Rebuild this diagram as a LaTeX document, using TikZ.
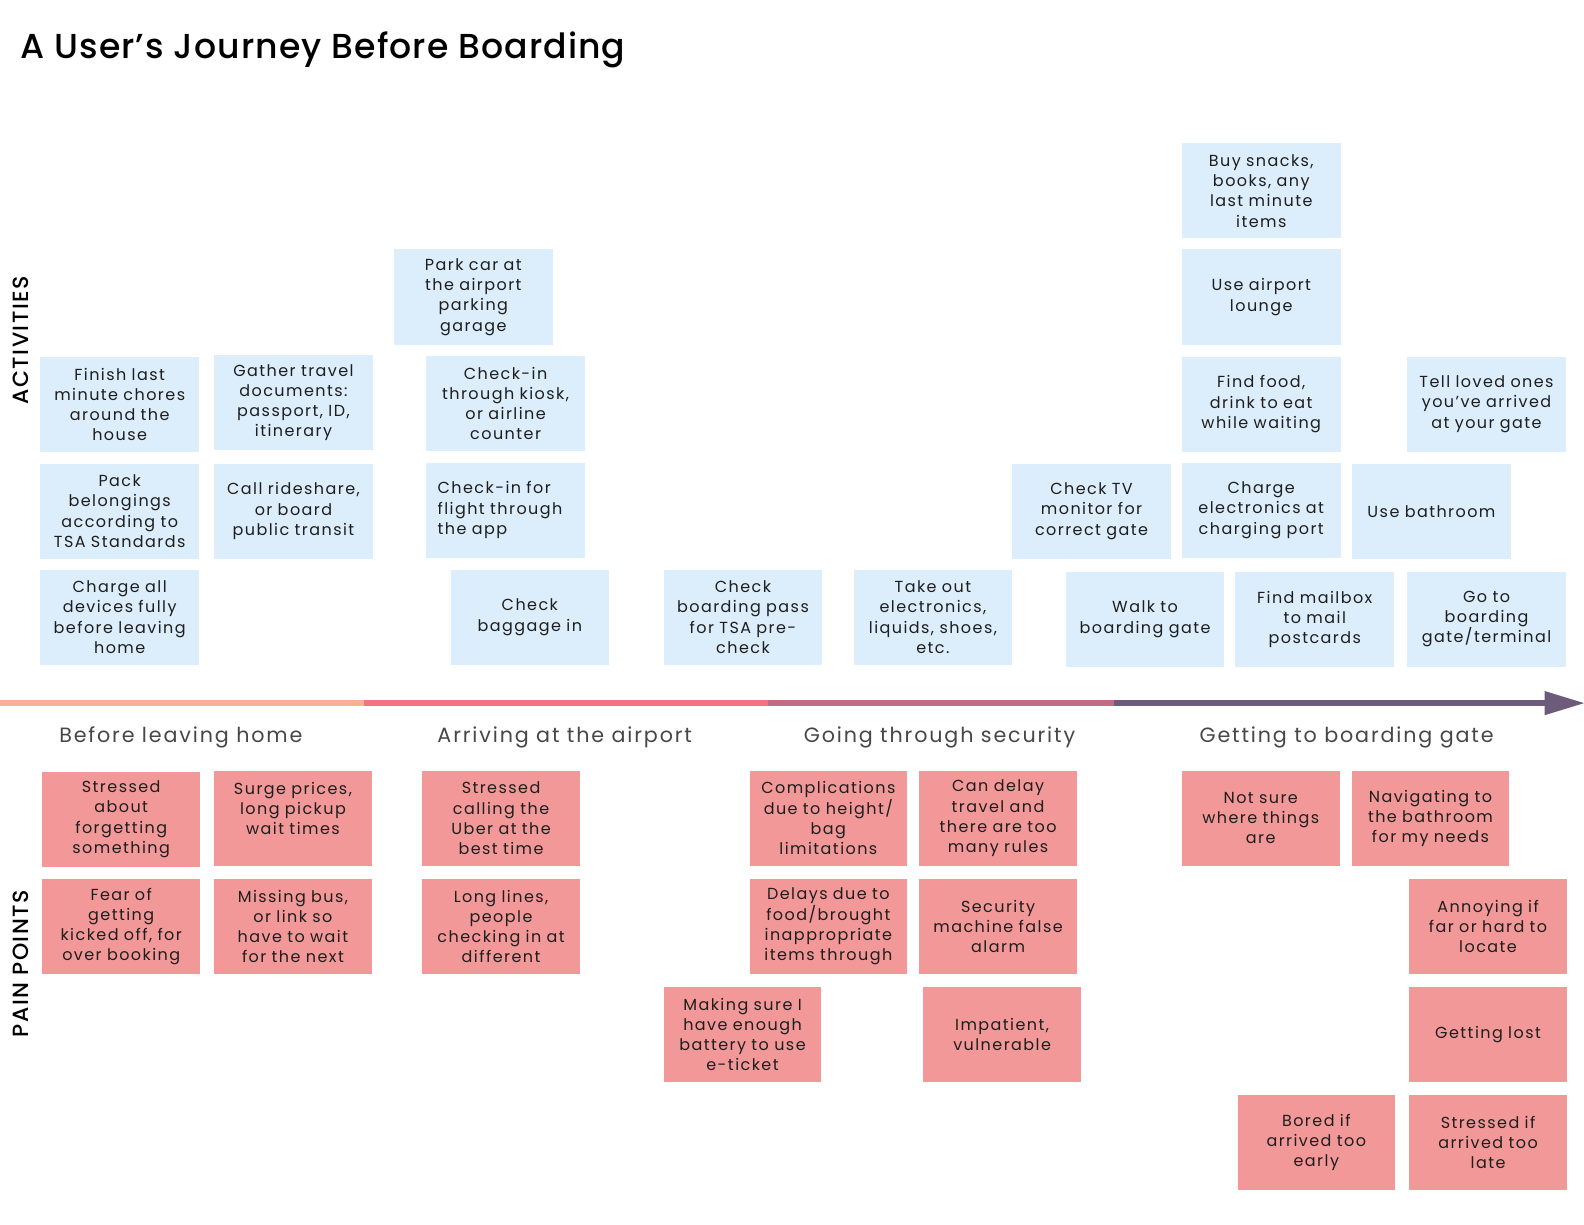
\documentclass[tikz,border=0pt]{standalone}
\usepackage{fontspec}
\setmainfont{Poppins}[LetterSpace=9]
\newfontfamily\titlefont{Poppins}[UprightFont=* Medium, LetterSpace=3]
\newfontfamily\sidefont{Poppins}[UprightFont=* Medium, LetterSpace=7]
\newfontfamily\phasefont{Poppins}[LetterSpace=9]
\definecolor{actblue}{HTML}{DCEDFB}
\definecolor{painred}{HTML}{F29898}
\definecolor{txt}{HTML}{1E1E1E}
\definecolor{phasegray}{HTML}{474747}
\definecolor{segA}{HTML}{F8B195}
\definecolor{segB}{HTML}{F67280}
\definecolor{segC}{HTML}{C06C84}
\definecolor{segD}{HTML}{6C5B7B}
\tikzset{
  act/.style={fill=actblue, minimum width=119pt, minimum height=71.3pt, text width=112pt,
    align=center, inner sep=0pt, font=\fontsize{12}{15.15}\selectfont, text=txt},
  pain/.style={act, fill=painred, minimum width=118.2pt},
  phase/.style={font=\phasefont\fontsize{15.5}{18}\selectfont, text=phasegray, anchor=base},
  side/.style={font=\sidefont\fontsize{16.5}{19}\selectfont, rotate=90, text=black},
  seg/.style={line width=4.3pt},
}
\begin{document}
\begin{tikzpicture}[x=0.7577pt, y=-0.7577pt]
\useasboundingbox (0,0) rectangle (1568,1212);
\fill[white] (0,0) rectangle (1568,1212);

% title
\node[anchor=base west, inner sep=0pt, font=\titlefont\fontsize{26}{30}\selectfont] (title) at (20,58) {A User’s Journey Before Boarding};

% side labels
\node[side] (lact) at (21,337) {ACTIVITIES};
\node[side] (lpain) at (21,954) {PAIN POINTS};

% activities
\node[act] (a1) at (118.5,400.5) {Finish last\\minute chores\\around the\\house};
\node[act] (a2) at (118.5,506) {Pack\\belongings\\according to\\TSA Standards};
\node[act] (a3) at (118.5,611) {Charge all\\devices fully\\before leaving\\home};
\node[act] (a4) at (290.5,398.5) {Gather travel\\documents:\\passport, ID,\\itinerary};
\node[act] (a5) at (290.5,506) {Call rideshare,\\or board\\public transit};
\node[act] (a6) at (468.5,294) {Park car at\\the airport\\parking\\garage};
\node[act] (a7) at (500.5,399.5) {Check-in\\through kiosk,\\or airline\\counter};
\node[act, align=left, text width=102pt] (a8) at (500.5,505) {Check-in for\\flight through\\the app};
\node[act] (a9) at (524.5,611) {Check\\baggage in};
\node[act] (a10) at (735.5,611) {Check\\boarding pass\\for TSA pre-\\check};
\node[act] (a11) at (923.5,611) {Take out\\electronics,\\liquids, shoes,\\etc.};
\node[act] (a12) at (1080.5,506) {Check TV\\monitor for\\correct gate};
\node[act] (a13) at (1133.5,613) {Walk to\\boarding gate};
\node[act] (a14) at (1248.5,189) {Buy snacks,\\books, any\\last minute\\items};
\node[act] (a15) at (1248.5,294) {Use airport\\lounge};
\node[act] (a16) at (1248.5,400) {Find food,\\drink to eat\\while waiting};
\node[act] (a17) at (1248.5,505) {Charge\\electronics at\\charging port};
\node[act] (a18) at (1301.5,613) {Find mailbox\\to mail\\postcards};
\node[act] (a19) at (1471.5,400) {Tell loved ones\\you've arrived\\at your gate};
\node[act] (a20) at (1417,506.5) {Use bathroom};
\node[act] (a21) at (1471.5,613) {Go to\\boarding\\gate/terminal};

% timeline
\coordinate (t0) at (0,696);
\coordinate (t1) at (360,696);
\coordinate (t2) at (760,696);
\coordinate (t3) at (1103,696);
\coordinate (t4) at (1531,696);
\coordinate (tip) at (1568,696);
\draw[seg, segA] (t0) -- (t1);
\draw[seg, segB] (t1) -- (t2);
\draw[seg, segC] (t2) -- (t3);
\draw[seg, segD] (t3) -- (t4);
\fill[segD] (tip) -- (1529,684) -- (1529,708) -- cycle;

% phases
\node[phase] (ph1) at (179,735) {Before leaving home};
\node[phase] (ph2) at (559,735) {Arriving at the airport};
\node[phase] (ph3) at (930,735) {Going through security};
\node[phase] (ph4) at (1333,735) {Getting to boarding gate};

% pain points
\node[pain] (p1) at (120,811) {Stressed\\about\\forgetting\\something};
\node[pain] (p2) at (290,810) {Surge prices,\\long pickup\\wait times\\\mbox{}};
\node[pain] (p3) at (120,917) {Fear of\\getting\\kicked off, for\\over booking};
\node[pain] (p4) at (290,917) {Missing bus,\\or link so\\have to wait\\for the next};
\node[pain] (p5) at (496,810) {Stressed\\calling the\\Uber at the\\best time};
\node[pain] (p6) at (496,917) {Long lines,\\people\\checking in at\\different};
\node[pain] (p7) at (820,810) {Complications\\due to height/\\bag\\limitations};
\node[pain] (p8) at (988,810) {Can delay\\travel and\\there are too\\many rules};
\node[pain] (p9) at (820,917) {Delays due to\\food/brought\\inappropriate\\items through};
\node[pain] (p10) at (988,917) {Security\\machine false\\alarm};
\node[pain] (p11) at (735,1024) {Making sure I\\have enough\\battery to use\\e-ticket};
\node[pain] (p12) at (992,1024) {Impatient,\\vulnerable};
\node[pain] (p13) at (1248,810) {Not sure\\where things\\are};
\node[pain] (p14) at (1416,810) {Navigating to\\the bathroom\\for my needs};
\node[pain] (p15) at (1473,917) {Annoying if\\far or hard to\\locate};
\node[pain] (p16) at (1473,1024) {Getting lost};
\node[pain] (p17) at (1303,1131) {Bored if\\arrived too\\early};
\node[pain] (p18) at (1473,1131) {Stressed if\\arrived too\\late};
\end{tikzpicture}
\end{document}
